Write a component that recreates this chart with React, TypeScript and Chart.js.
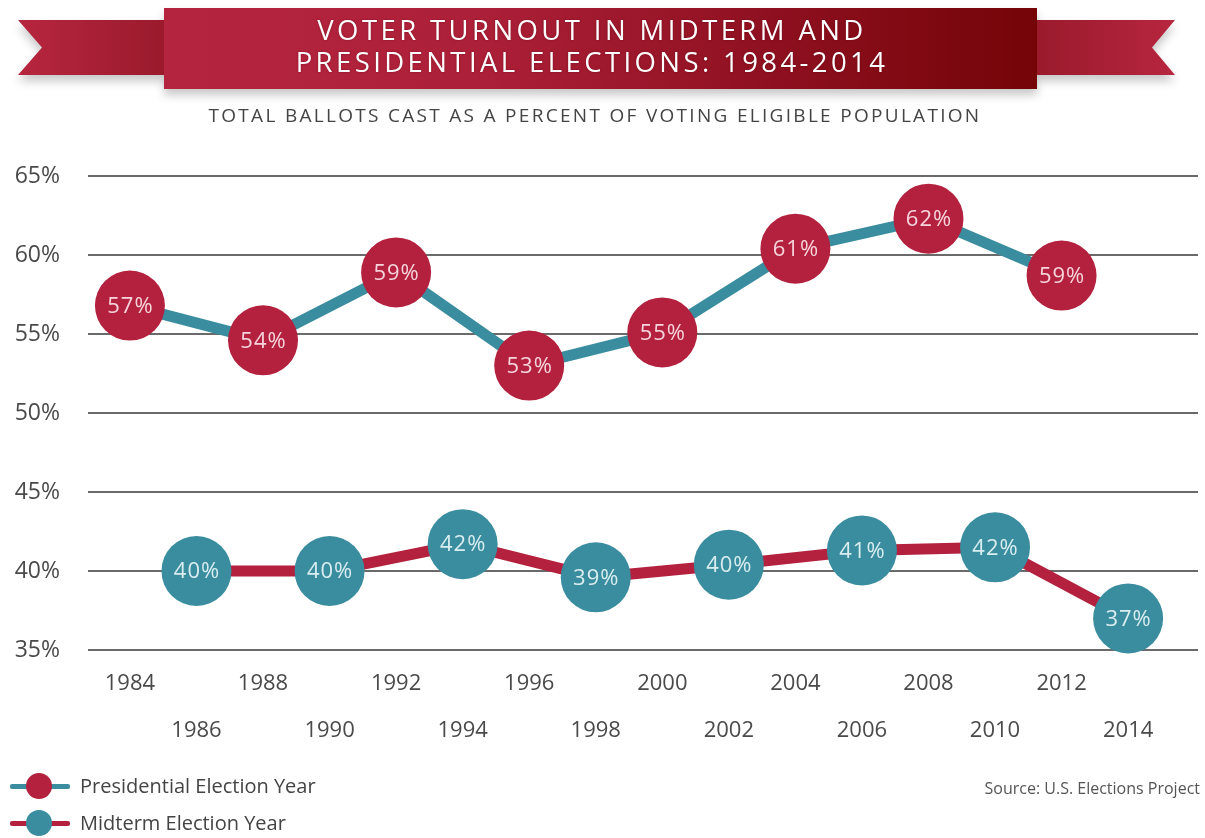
import React, { useEffect, useRef } from 'react';
import { Chart, registerables } from 'chart.js';

Chart.register(...registerables);

const presYears = [1984, 1988, 1992, 1996, 2000, 2004, 2008, 2012];
const presValues = [56.8, 54.6, 58.9, 53.0, 55.1, 60.4, 62.3, 58.7];
const presLabels = ['57%', '54%', '59%', '53%', '55%', '61%', '62%', '59%'];

const midYears = [1986, 1990, 1994, 1998, 2002, 2006, 2010, 2014];
const midValues = [40.0, 40.0, 41.7, 39.6, 40.4, 41.3, 41.5, 37.0];
const midLabels = ['40%', '40%', '42%', '39%', '40%', '41%', '42%', '37%'];

const tickYears = [1984, 1986, 1988, 1990, 1992, 1994, 1996, 1998, 2000, 2002, 2004, 2006, 2008, 2010, 2012, 2014];
const yTickValues = [35, 40, 45, 50, 55, 60, 65];

const RED = '#b3213e';
const TEAL = '#3a8d9e';
const FONT = "'Open Sans', 'Noto Sans', sans-serif";

const circleLabelPlugin = {
  id: 'circleLabels',
  afterDatasetsDraw(chart: any) {
    const ctx = chart.ctx;
    chart.data.datasets.forEach((ds: any, i: number) => {
      const meta = chart.getDatasetMeta(i);
      const labels: string[] = ds.circleLabels || [];
      ctx.save();
      ctx.font = `22px ${FONT}`;
      try { (ctx as any).letterSpacing = '1px'; } catch (e) {}
      ctx.textAlign = 'center';
      ctx.textBaseline = 'middle';
      ctx.fillStyle = ds.labelColor;
      meta.data.forEach((pt: any, j: number) => {
        ctx.fillText(labels[j], pt.x + 0.5, pt.y + 1);
      });
      ctx.restore();
    });
  },
};

export default function App() {
  const ref = useRef<HTMLCanvasElement | null>(null);

  useEffect(() => {
    if (!ref.current) return;
    const chart = new Chart(ref.current, {
      type: 'line',
      data: {
        datasets: [
          {
            label: 'Midterm Election Year',
            data: midYears.map((y, i) => ({ x: y, y: midValues[i] })),
            borderColor: RED,
            borderWidth: 11,
            pointRadius: 35,
            pointHoverRadius: 35,
            pointBackgroundColor: TEAL,
            pointBorderWidth: 0,
            tension: 0,
            clip: false,
            circleLabels: midLabels,
            labelColor: 'rgba(225,242,246,0.95)',
          } as any,
          {
            label: 'Presidential Election Year',
            data: presYears.map((y, i) => ({ x: y, y: presValues[i] })),
            borderColor: TEAL,
            borderWidth: 11,
            pointRadius: 35,
            pointHoverRadius: 35,
            pointBackgroundColor: RED,
            pointBorderWidth: 0,
            tension: 0,
            clip: false,
            circleLabels: presLabels,
            labelColor: 'rgba(250,222,228,0.95)',
          } as any,
        ],
      },
      options: {
        animation: false,
        responsive: false,
        events: [],
        layout: { autoPadding: false, padding: { top: 176, right: 7, left: 0, bottom: 0 } },
        plugins: {
          legend: { display: false },
          title: { display: false },
          tooltip: { enabled: false },
        },
        scales: {
          x: {
            type: 'linear',
            min: 1982.74,
            max: 2016.1,
            grid: { display: false },
            border: { display: false },
            afterBuildTicks: (scale: any) => {
              scale.ticks = tickYears.map((v) => ({ value: v }));
            },
            afterFit: (scale: any) => {
              scale.height = 188;
              scale.paddingLeft = 0;
              scale.paddingRight = 0;
            },
            ticks: {
              autoSkip: false,
              maxRotation: 0,
              minRotation: 0,
              padding: 2.5,
              color: '#4a4a4a',
              font: { family: FONT, size: 22, lineHeight: 47 / 22 },
              callback: (value: any) =>
                midYears.includes(Number(value)) ? ['', String(value)] : String(value),
            },
          },
          y: {
            type: 'linear',
            min: 35,
            max: 65,
            afterBuildTicks: (scale: any) => {
              scale.ticks = yTickValues.map((v) => ({ value: v }));
            },
            afterFit: (scale: any) => {
              scale.width = 88;
            },
            grid: { color: '#6a6a6a', lineWidth: 2, drawTicks: false },
            border: { display: false },
            ticks: {
              padding: 28,
              color: '#4a4a4a',
              font: { family: FONT, size: 23 },
              callback: (value: any) => `${value}%`,
            },
          },
        },
      } as any,
      plugins: [circleLabelPlugin],
    });
    return () => chart.destroy();
  }, []);

  const legendRow = (top: number, lineColor: string, dotColor: string, text: string) => (
    <div style={{ position: 'absolute', left: 10, top: top - 15, height: 30, width: 400 }}>
      <div style={{ position: 'absolute', left: 0, top: 13, width: 60, height: 5, background: lineColor, borderRadius: 2 }} />
      <div style={{ position: 'absolute', left: 16, top: 2, width: 26, height: 26, borderRadius: '50%', background: dotColor }} />
      <div style={{ position: 'absolute', left: 70, top: 0, lineHeight: '30px', fontSize: 20, color: '#444', fontFamily: FONT, whiteSpace: 'nowrap' }}>{text}</div>
    </div>
  );

  return (
    <div style={{ position: 'absolute', left: 0, top: 0, width: 1205, height: 838, background: '#fff', overflow: 'hidden', fontFamily: FONT }}>
      <canvas ref={ref} width={1205} height={838} style={{ position: 'absolute', left: 0, top: 0, width: 1205, height: 838 }} />
      {/* Banner */}
      <div style={{ position: 'absolute', left: 0, top: 0, width: 1205, height: 100, filter: 'drop-shadow(0px 6px 5px rgba(0,0,0,0.22))' }}>
        <div style={{ position: 'absolute', left: 18, top: 20, width: 147, height: 55, background: 'linear-gradient(to right, #b7263f, #9a1a2c)', clipPath: 'polygon(0 0, 100% 0, 100% 100%, 0 100%, 24px 50%)' }} />
        <div style={{ position: 'absolute', left: 1036, top: 20, width: 139, height: 55, background: 'linear-gradient(to right, #9a1a2c, #b7263f)', clipPath: 'polygon(0 0, 100% 0, calc(100% - 23px) 50%, 100% 100%, 0 100%)' }} />
        <div style={{ position: 'absolute', left: 164, top: 8, width: 873, height: 81, background: 'linear-gradient(to right, #b5243f 0%, #ad2039 35%, #8e1020 70%, #740407 100%)' }} />
      </div>
      <div style={{ position: 'absolute', left: 164, top: 14, width: 856, textAlign: 'center', color: '#fff', fontSize: 27.5, lineHeight: '32px', letterSpacing: 3.4, fontFamily: FONT, whiteSpace: 'nowrap', textShadow: '0 0 2px rgba(80,0,10,0.5)' }}>
        <div>VOTER TURNOUT IN MIDTERM AND</div>
        <div>PRESIDENTIAL ELECTIONS: 1984-2014</div>
      </div>
      <div style={{ position: 'absolute', left: 0, top: 101, width: 1190, textAlign: 'center', color: '#444', fontSize: 19, lineHeight: '28px', letterSpacing: 2.3, fontFamily: FONT, whiteSpace: 'nowrap' }}>
        TOTAL BALLOTS CAST AS A PERCENT OF VOTING ELIGIBLE POPULATION
      </div>
      {legendRow(786, TEAL, RED, 'Presidential Election Year')}
      {legendRow(823, RED, TEAL, 'Midterm Election Year')}
      <div style={{ position: 'absolute', right: 5, top: 776, lineHeight: '24px', fontSize: 16, color: '#555', fontFamily: FONT, whiteSpace: 'nowrap' }}>
        Source: U.S. Elections Project
      </div>
    </div>
  );
}
